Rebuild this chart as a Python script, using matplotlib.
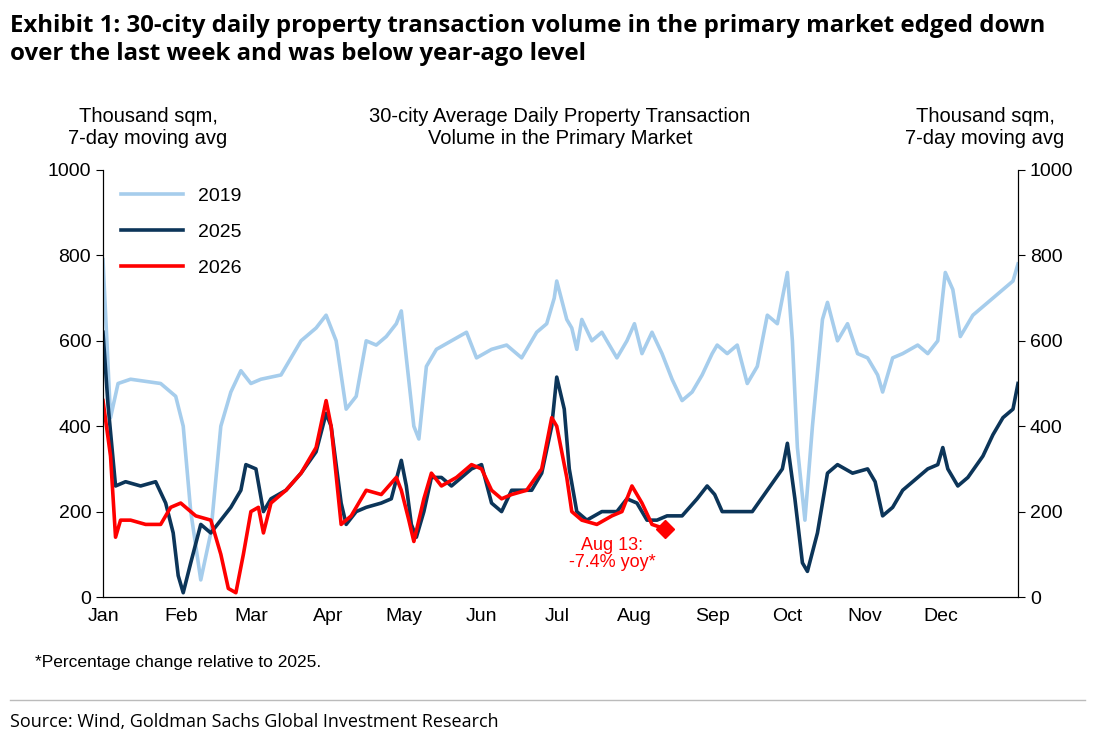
import numpy as np
import matplotlib
matplotlib.use('Agg')
import matplotlib.pyplot as plt


def main():
    series = load_series()
    visualize_volume(series)


def load_series():
    # day of year : thousand sqm (7-day moving avg)
    s2019 = {0: 790, 3: 420, 6: 500, 11: 510, 23: 500, 29: 470, 32: 400, 35: 200, 39: 40, 43: 150, 47: 400,
             51: 480, 55: 530, 59: 500, 63: 510, 71: 520, 79: 600, 85: 630, 89: 660, 93: 600, 97: 440, 101: 470,
             105: 600, 109: 590, 113: 610, 117: 640, 119: 670, 121: 560, 124: 400, 126: 370, 129: 540, 133: 580,
             139: 600, 145: 620, 149: 560, 155: 580, 161: 590, 167: 560, 173: 620, 177: 640, 180: 700, 181: 740,
             185: 650, 187: 630, 189: 580, 191: 650, 195: 600, 199: 620, 205: 560, 209: 600, 212: 640, 215: 570,
             219: 620, 223: 570, 227: 510, 231: 460, 235: 480, 239: 520, 243: 570, 245: 590, 249: 570, 253: 590,
             257: 500, 261: 540, 265: 660, 269: 640, 271: 700, 273: 760, 275: 600, 277: 350, 280: 180, 283: 400,
             287: 650, 289: 690, 293: 600, 297: 640, 301: 570, 305: 560, 309: 520, 311: 480, 315: 560, 319: 570,
             325: 590, 329: 570, 333: 600, 336: 760, 339: 720, 342: 610, 347: 660, 351: 680, 355: 700, 359: 720,
             363: 740, 365: 780}
    s2025 = {0: 620, 2: 450, 5: 260, 9: 270, 15: 260, 21: 270, 25: 220, 28: 150, 30: 50, 32: 10, 35: 80, 39: 170,
             43: 150, 47: 180, 51: 210, 55: 250, 57: 310, 61: 300, 64: 200, 67: 230, 73: 250, 79: 290, 85: 340,
             89: 430, 91: 400, 95: 220, 97: 170, 101: 200, 105: 210, 111: 220, 115: 230, 119: 320, 121: 260,
             123: 170, 125: 140, 128: 200, 131: 280, 135: 280, 139: 260, 147: 300, 151: 310, 155: 220, 159: 200,
             163: 250, 167: 250, 171: 250, 175: 290, 179: 400, 181: 515, 184: 440, 186: 300, 189: 200, 193: 180,
             199: 200, 205: 200, 209: 230, 213: 220, 217: 180, 221: 180, 225: 190, 231: 190, 237: 230, 241: 260,
             244: 240, 247: 200, 253: 200, 259: 200, 265: 250, 271: 300, 273: 360, 276: 230, 279: 80, 281: 60,
             285: 150, 289: 290, 293: 310, 299: 290, 305: 300, 308: 270, 311: 190, 315: 210, 319: 250, 325: 280,
             329: 300, 333: 310, 335: 350, 337: 300, 341: 260, 345: 280, 351: 330, 355: 380, 359: 420, 363: 440,
             365: 500}
    s2026 = {0: 460, 3: 330, 5: 140, 7: 180, 11: 180, 17: 170, 23: 170, 27: 210, 31: 220, 37: 190, 43: 180,
             47: 100, 50: 20, 53: 10, 56: 100, 59: 200, 62: 210, 64: 150, 67: 220, 73: 250, 79: 290, 85: 350,
             89: 460, 91: 400, 95: 170, 99: 190, 105: 250, 111: 240, 117: 280, 119: 250, 122: 180, 124: 130,
             128: 230, 131: 290, 135: 260, 141: 280, 147: 310, 151: 300, 155: 250, 159: 230, 163: 240, 169: 250,
             175: 300, 179: 420, 181: 400, 185: 280, 187: 200, 191: 180, 197: 170, 203: 190, 207: 200, 211: 260,
             215: 220, 219: 170, 224: 160}
    return {'2019': s2019, '2025': s2025, '2026': s2026}


def visualize_volume(series):
    plt.rcParams['font.family'] = ['Liberation Sans', 'DejaVu Sans']
    fig = plt.figure(figsize=(10.95, 7.36), dpi=100)
    ax = fig.add_axes([103 / 1095, 1 - 597 / 736, 915 / 1095, 427 / 736])

    colors = {'2019': '#a6cdec', '2025': '#0c3559', '2026': '#ff0000'}
    for name, data in series.items():
        plt.plot(list(data.keys()), list(data.values()), color=colors[name], lw=2.6, label=name)

    # last 2026 point
    last_day = list(series['2026'].keys())[-1]
    plt.plot(last_day, series['2026'][last_day], marker='D', color='red', ms=9)
    plt.text(203, 100, 'Aug 13:\n-7.4% yoy*', color='red', ha='center', va='center', fontsize=13, linespacing=1.0)

    month_starts = [0, 31, 59, 90, 120, 151, 181, 212, 243, 273, 304, 334]
    months = ['Jan', 'Feb', 'Mar', 'Apr', 'May', 'Jun', 'Jul', 'Aug', 'Sep', 'Oct', 'Nov', 'Dec']
    plt.xticks(month_starts, months, fontsize=14)
    plt.xlim(0, 365)
    plt.ylim(0, 1000)
    plt.yticks(range(0, 1001, 200), fontsize=14)
    ax.spines['top'].set_visible(False)
    ax.tick_params(axis='x', length=0, pad=8)
    ax.tick_params(axis='y', direction='out', length=5)

    ax2 = ax.twinx()
    ax2.set_ylim(0, 1000)
    ax2.set_yticks(range(0, 1001, 200))
    ax2.tick_params(axis='y', labelsize=14, length=5)
    ax2.spines['top'].set_visible(False)

    ax.legend(loc='upper left', bbox_to_anchor=(0.0, 1.0), frameon=False, fontsize=14,
              handlelength=3.2, labelspacing=0.95)

    # texts above the plot
    fig.text(148 / 1095, 1 - 127 / 736, 'Thousand sqm,\n7-day moving avg', ha='center', va='center', fontsize=14.5)
    fig.text(985 / 1095, 1 - 127 / 736, 'Thousand sqm,\n7-day moving avg', ha='center', va='center', fontsize=14.5)
    fig.text(560 / 1095, 1 - 127 / 736, '30-city Average Daily Property Transaction\nVolume in the Primary Market',
             ha='center', va='center', fontsize=14.5)
    fig.text(10 / 1095, 1 - 40 / 736,
             'Exhibit 1: 30-city daily property transaction volume in the primary market edged down\n'
             'over the last week and was below year-ago level',
             ha='left', va='center', fontsize=17.3, fontweight='bold', family=['Open Sans', 'DejaVu Sans'],
             linespacing=1.25)
    fig.text(35 / 1095, 1 - 662 / 736, '*Percentage change relative to 2025.', fontsize=12.5, va='center')
    fig.add_artist(plt.Line2D([10 / 1095, 1085 / 1095], [1 - 700 / 736] * 2, color='#bbbbbb', lw=1))
    fig.text(10 / 1095, 1 - 722 / 736, 'Source: Wind, Goldman Sachs Global Investment Research', fontsize=13,
             va='center', family=['Open Sans', 'DejaVu Sans'])

    plt.savefig('out.png', dpi=100)


if __name__ == "__main__":
    main()
